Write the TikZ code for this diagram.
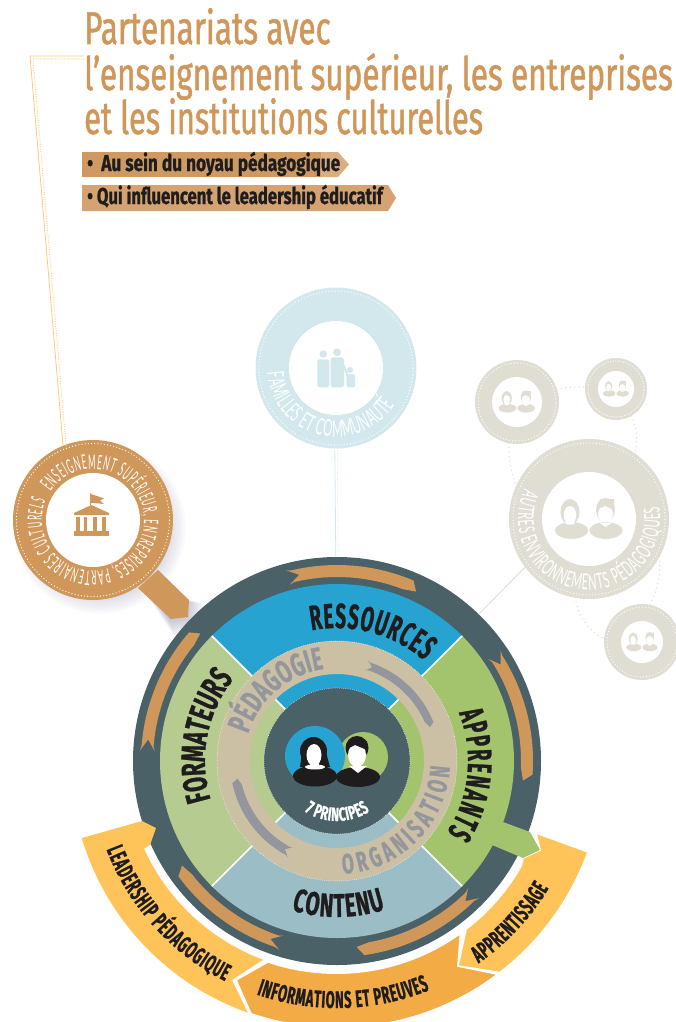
\documentclass[tikz,border=0pt]{standalone}
\usepackage{fontspec}
\usetikzlibrary{calc,decorations.text}
\newfontfamily\titlef[FakeStretch=0.685,FakeBold=1.1]{Fira Sans}
\newfontfamily\wheelf[FakeStretch=0.62,FakeBold=0.8]{Fira Sans}
\newfontfamily\narrowf[FakeStretch=0.54,FakeBold=0.8]{Fira Sans}
\newfontfamily\thinf[FakeStretch=0.4]{Lato}
\newfontfamily\thing[FakeStretch=0.5]{Lato}
\newcommand\ft[1]{\titlef\fontsize{#1}{#1}\selectfont}
\newcommand\fw[1]{\wheelf\bfseries\fontsize{#1}{#1}\selectfont}
\newcommand\fx[1]{\narrowf\bfseries\fontsize{#1}{#1}\selectfont}
\newcommand\fl[1]{\thinf\fontsize{#1}{#1}\selectfont}
\newcommand\fg[1]{\thing\fontsize{#1}{#1}\selectfont}
\definecolor{dark}{HTML}{4A6168}
\definecolor{cblue}{HTML}{27A3D1}
\definecolor{cgreen}{HTML}{A3C36C}
\definecolor{lgreen}{HTML}{B5CB8F}
\definecolor{lblue}{HTML}{9BBDC6}
\definecolor{beige}{HTML}{CBC0A3}
\definecolor{copper}{HTML}{D0975A}
\definecolor{yel}{HTML}{FEC459}
\definecolor{org}{HTML}{F3AC45}
\definecolor{gry}{HTML}{93969C}
\definecolor{ink}{HTML}{1E1C1D}
\definecolor{pale}{HTML}{D2E8ED}
\definecolor{sand}{HTML}{E0DDD3}
\definecolor{ban1}{HTML}{CF9A62}
\definecolor{ban1b}{HTML}{DAAE80}
\definecolor{ban2}{HTML}{D4A371}
\definecolor{lnk}{HTML}{FBCB7C}
\tikzset{
  badge/.style={circle,inner sep=0pt,outer sep=0pt,fill=#1},
  dotring/.style={white,line width=1.3pt,line cap=round,dash pattern=on 0pt off 3.2pt},
  fineDots/.style={white,line width=.7pt,line cap=round,dash pattern=on 0pt off 1.9pt},
  dotlink/.style={#1,line width=1.5pt,line cap=round,dash pattern=on 0pt off 4.5pt},
  sep/.style={white,line width=1.6pt},
}
% text on an arc: font, centre, start, end, radius, text
\newcommand\arctext[6]{\path[decorate,decoration={text along path,text={|#1|#6},text align={fit to path}}]
  ($(#2)+(#3:#5)$) arc[start angle=#3,end angle=#4,radius=#5];}
% clockwise arrow on a ring
\newcommand\ringarrow[5]{\fill[#5] ($(M)+(#1:#3+1.5)$) -- ($(M)+(#1-3.5:{(#3+#4)/2})$) -- ($(M)+(#1:#4-1.5)$)
  -- ($(M)+(#1-1.5:#4)$) arc[start angle=#1-1.5,end angle=#2+4,radius=#4]
  -- ($(M)+(#2:#4+3)$) -- ($(M)+(#2+2:#3)$) arc[start angle=#2+2,end angle=#1-1.5,radius=#3] -- cycle;}
% two-person pictogram
\newcommand\duo[4]{\begin{scope}[shift={(#1,-#2)},scale=#3]
  \fill[#4] (-19,7) ellipse (9.5 and 13);
  \fill[#4] (-24,-1) -- (-14,-1) -- (-11,-7) -- (-27,-7) -- cycle;
  \fill[white] (-19,4) ellipse (6.3 and 9);
  \fill[#4] (16.5,9) ellipse (9.5 and 12);
  \fill[white] (16.5,5) ellipse (7.5 and 8.5);
  \fill[#4] (9,10) -- (11,20) -- (25,20) -- (25,9) -- (16,13) -- cycle;
  \fill[#4,draw=white,line width=.5pt] (-17.5,-11.5) ellipse (17 and 8.7);
  \fill[#4,draw=white,line width=.5pt] (17,-11.5) ellipse (17 and 8.7);
  \fill[white] (-19,-4) ellipse (4.6 and 1.8);
  \fill[white] (10,-3.5) -- (16.5,-8) -- (23,-3.5) -- cycle;
\end{scope}}
\begin{document}
\begin{tikzpicture}[x=1pt,y=1pt]
\useasboundingbox (0,0) rectangle (676,-1022);
\clip (0,0) rectangle (676,-1022);
\coordinate (M) at (337,-761);
\coordinate (lnkA) at (84,-56);
\coordinate (lnkB) at (30,-56);
\coordinate (lnkC) at (84,-59);
\coordinate (lnkD) at (33,-59);
% soft shadow of the magnifier
\foreach \i in {1,...,16}{
  \fill[black!45!blue!30!gray,opacity=.032] (100,-528) circle ({88-\i*2.4})
    ({139+\i*.9},{-584-\i*.9}) -- ({205-\i*1.4},{-604+\i*.2}) -- ({204-\i*1.4},{-635+\i*1.4}) -- ({175-\i*.4},{-638+\i*1.4}) -- cycle;
}
% hub and outer badges
\node[badge=dark,minimum size=408pt] (hub) at (M) {};
\node[badge=copper,minimum size=160pt] (mag) at (93,-520) {};
\node[badge=pale,minimum size=161pt] (fam) at (336,-368) {};
\node[badge=sand,minimum size=160pt] (env) at (589,-519) {};
\node[badge=sand,minimum size=84pt] (sa) at (517,-402) {};
\node[badge=sand,minimum size=62pt] (sb) at (616,-389) {};
\node[badge=sand,minimum size=76pt] (sc) at (642,-642) {};
% connectors
\draw[lnk,line width=.8pt] (lnkA) -- (lnkB) -- (mag.112);
\draw[dotlink=lnk,line width=1.2pt,dash pattern=on 0pt off 2.4pt] (lnkC) -- (lnkD) -- ($(mag.112)+(3,0)$);
\draw[pale,line width=.8pt] ($(fam.south)+(-1.2,0)$) -- ($(hub.north)+(-1.2,0)$);
\draw[pale,line width=1pt,line cap=round,dash pattern=on 0pt off 2.4pt] ($(fam.south)+(1.2,0)$) -- ($(hub.north)+(1.2,0)$);
\draw[sand,line width=.8pt] (env.217) -- (hub.46);
\draw[sand,line width=1pt,line cap=round,dash pattern=on 0pt off 2.4pt] ($(env.217)+(1.5,1.5)$) -- ($(hub.46)+(1.5,1.5)$);
\draw[dotlink=sand] (sa.259) to[bend right=12] (env.155);
\draw[dotlink=sand] (sa.18) to[bend left=6] (sb.176);
\draw[dotlink=sand] (sb.-60) to[bend left=18] (env.55);
\draw[dotlink=sand] (env.-28) to[bend left=14] (sc.78);
\draw[dotlink=sand] (env.-100) to[bend right=25] (sc.175);
% badges interior
\begin{scope}
  \draw[dotring] (mag) circle (76.5);
  \fill[white] (mag) circle (47);
  \draw[dotring] (fam) circle (77);
  \fill[white] (fam) circle (47);
  \draw[dotring] (env) circle (76);
  \fill[white] (env) circle (47);
  \draw[dotring] (sa) circle (39);
  \fill[white] (sa) circle (25);
  \draw[dotring,dash pattern=on 0pt off 2.6pt] (sb) circle (28);
  \fill[white] (sb) circle (18);
  \draw[dotring] (sc) circle (35);
  \fill[white] (sc) circle (21);
\end{scope}
\duo{589}{519}{1}{sand}
\duo{517}{402}{.54}{sand}
\duo{616}{389}{.39}{sand}
\duo{642}{642}{.47}{sand}
% magnifier handle
\fill[copper] (158,-570) -- (189,-600) -- (188,-617) -- (171,-619) -- (138,-588) -- cycle;
% building
\fill[copper] (74,-531) rectangle (109,-535.7);
\foreach \a/\b in {76/80,84/87.3,93.3/97.3,101.7/105.7} \fill[copper] (\a,-517.3) rectangle (\b,-531);
\fill[copper] (74,-513) -- (91.3,-505) -- (109,-513) -- (109,-515) -- (74,-515) -- cycle;
\fill[copper] (90.2,-493.3) rectangle (91.4,-505);
\fill[copper] (90.7,-494) -- (104,-498.3) -- (100,-500.7) -- (104,-504) -- (90.7,-502.7) -- cycle;
% family
\fill[pale] (323.3,-354) circle (3.7) (337,-352.3) circle (3.9) (350,-370) circle (3);
\fill[pale,rounded corners=2.5pt] (317.3,-359.3) rectangle (329.3,-387.3);
\fill[pale,rounded corners=2.5pt] (330.7,-357.3) rectangle (344,-387.3);
\fill[pale,rounded corners=2pt] (346.7,-374) rectangle (355,-387.3);
\draw[pale,line width=2pt] (342,-361) -- (348,-377);
% curved labels of badges
\arctext{\color{white}\fl{20}}{mag}{146}{-202}{51}{ENSEIGNEMENT SUPÉRIEUR, ENTREPRISES, PARTENAIRES CULTURELS}
\arctext{\color{white}\fg{23}}{fam}{184}{328}{69}{FAMILLES ET COMMUNAUTÉ}
\arctext{\color{white}\fg{22}}{env}{155}{370}{71}{AUTRES ENVIRONNEMENTS PÉDAGOGIQUES}
% wheel sectors
\fill[cblue] (M) -- ($(M)+(45:177)$) arc[start angle=45,end angle=135,radius=177] -- cycle;
\fill[cgreen] (M) -- ($(M)+(-45:177)$) arc[start angle=-45,end angle=45,radius=177] -- cycle;
\fill[lblue] (M) -- ($(M)+(-135:177)$) arc[start angle=-135,end angle=-45,radius=177] -- cycle;
\fill[lgreen] (M) -- ($(M)+(135:177)$) arc[start angle=135,end angle=225,radius=177] -- cycle;
\foreach \a in {45,135,225,315} \draw[sep] (M) -- ($(M)+(\a:177)$);
% beige ring and core
\fill[beige,even odd rule] (M) circle (120) (M) circle (87);
\draw[fineDots] (M) circle (120);
\node[badge=dark,minimum size=146pt] (core) at (M) {};
\draw[fineDots] (M) circle (73);
% ring arrows
\ringarrow{105}{65}{196}{184}{copper}
\ringarrow{34}{-6}{196}{184}{copper}
\ringarrow{-44}{-84}{196}{184}{copper}
\ringarrow{-107}{-146}{196}{184}{copper}
\ringarrow{177}{137}{196}{184}{copper}
\ringarrow{73}{20}{104}{96}{gry}
\ringarrow{-117}{-170}{107}{98}{gry}
% wheel labels
\arctext{\color{ink}\fx{35}}{M}{101}{49}{133}{RESSOURCES}
\arctext{\color{ink}\fw{34}}{M}{197}{142}{132}{FORMATEURS}
\arctext{\color{ink}\fx{34}}{M}{21.5}{-33}{131}{APPRENANTS}
\arctext{\color{ink}\fw{33}}{M}{-107}{-72}{156}{CONTENU}
\arctext{\color{gry}\fw{32}}{M}{163}{98}{93}{PÉDAGOGIE}
\arctext{\color{gry}\fw{28}}{M}{-87}{-3}{113}{ORGANISATION}
\arctext{\color{white}\fw{19}}{M}{237}{303}{60}{7 PRINCIPES}
% centre pictogram
\fill[cgreen] (363,-757) circle (25);
\fill[cblue] (315,-756) circle (30);
\fill[ink] (313.5,-751) ellipse (13.5 and 14);
\fill[ink] (302,-752) -- (300,-767) -- (330,-767) -- (326,-752) -- cycle;
\fill[ink] (315,-776) ellipse (22 and 10.5);
\fill[white] (309.5,-760) rectangle (318.5,-768);
\fill[white] (315,-767) ellipse (10 and 2.5);
\fill[white] (314,-755) ellipse (7.5 and 11);
\fill[ink] (358,-777) ellipse (22 and 10);
\fill[ink] (357,-748) ellipse (11.5 and 12);
\fill[white] (357,-755) ellipse (9 and 12);
\fill[ink] (347,-749) -- (349,-741) -- (367,-741) -- (367,-750) -- (355,-745) -- cycle;
\fill[white] (349,-766) -- (358,-773) -- (367,-766) -- cycle;
% lower bands
\fill[yel]
  ($(M)+(196.8:266)$) -- (142,-821) -- (156,-828) -- (150,-845) -- ($(M)+(204.4:212)$)
  arc[start angle=204.4,end angle=249.6,radius=212] -- (232,-980) -- ($(M)+(250.5:267)$)
  arc[start angle=250.5,end angle=196.8,radius=266] -- cycle;
\filldraw[fill=org,draw=white,line width=1.6pt]
  ($(M)+(250.9:213)$) -- (236,-980) -- ($(M)+(251.2:267)$)
  arc[start angle=251.2,end angle=307,radius=267] -- (458,-966) -- ($(M)+(305.6:212)$)
  arc[start angle=305.6,end angle=250.9,radius=213] -- cycle;
\filldraw[fill=yel,draw=white,line width=1.6pt]
  ($(M)+(307.5:212)$) -- (458,-966) -- ($(M)+(307.6:267)$)
  arc[start angle=307.6,end angle=340.1,radius=267] -- (536,-833) -- (540,-850) -- (523,-858) -- ($(M)+(330.3:212)$)
  arc[start angle=330.3,end angle=307.5,radius=212] -- cycle;
\fill[cgreen] (503,-822) -- (530,-832) -- (540,-850) -- (523,-858) -- (492,-845) -- cycle;
\arctext{\color{ink}\fx{24}}{M}{201}{243}{247}{LEADERSHIP PÉDAGOGIQUE}
\arctext{\color{ink}\fx{24}}{M}{251}{292}{247}{INFORMATIONS ET PREUVES}
\arctext{\color{ink}\fx{24}}{M}{305}{329}{247}{APPRENTISSAGE}
% title
\node[anchor=base west,inner sep=0pt,text=copper,font=\ft{46}] (t1) at (84,-44) {Partenariats avec};
\node[anchor=base west,inner sep=0pt,text=copper,font=\ft{46}] (t2) at (84,-90) {l’enseignement supérieur, les entreprises};
\node[anchor=base west,inner sep=0pt,text=copper,font=\ft{46}] (t3) at (84,-134) {\scalebox{.975}[1]{et les institutions culturelles}};
% banners
\fill[ban1b] (82,-152) -- (338,-152) -- (349,-164.5) -- (338,-177) -- (82,-177) -- cycle;
\fill[ban1] (82,-152) rectangle (321,-177);
\fill[ban2] (82,-185) -- (388,-185) -- (396,-198) -- (388,-211) -- (82,-211) -- cycle;
\node[anchor=base west,inner sep=0pt,text=ink,font=\fw{23}] (b1) at (87,-171) {\scalebox{1.205}[1]{•\ \ Au sein du noyau pédagogique}};
\node[anchor=base west,inner sep=0pt,text=ink,font=\fw{23}] (b2) at (87,-204) {\scalebox{1.17}[1]{• Qui influencent le leadership éducatif}};
\end{tikzpicture}
\end{document}
